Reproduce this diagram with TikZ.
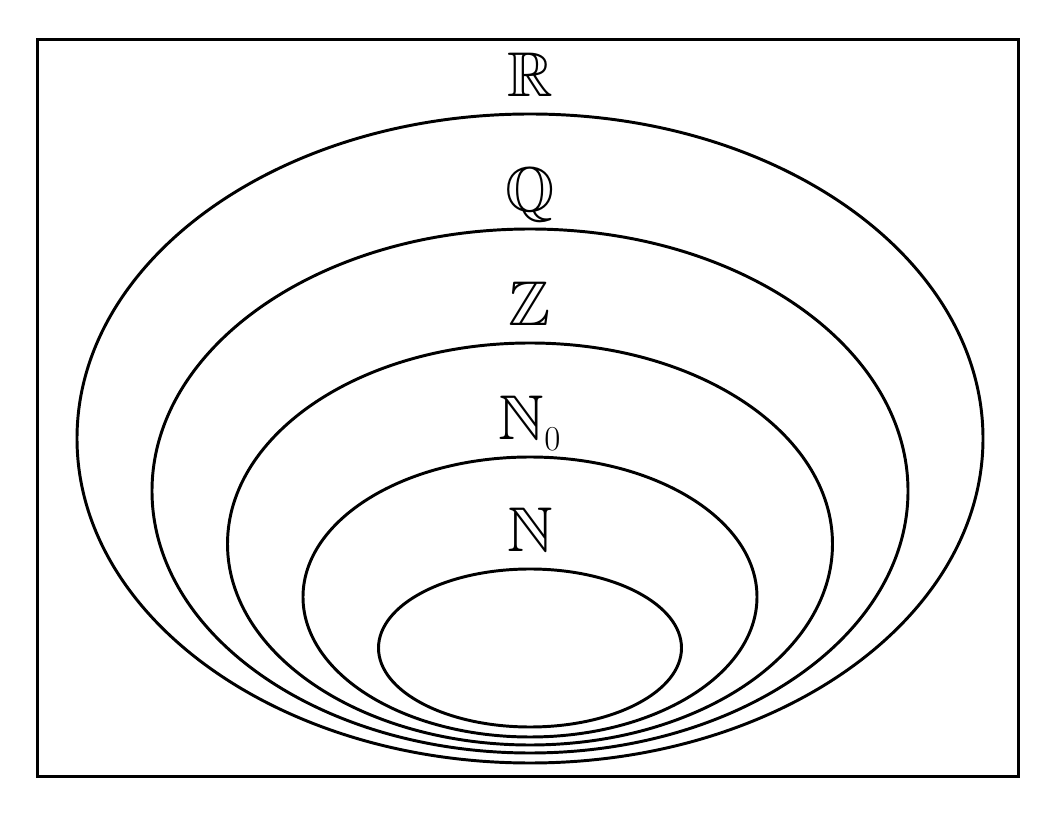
\documentclass[tikz,border=0pt]{standalone}
\usepackage{amssymb}
\usetikzlibrary{shapes.geometric, positioning}

\tikzset{
  numset/.style={draw=black, ellipse, line width=2.1pt, inner sep=0pt},
  setname/.style={anchor=base, inner sep=0pt, font=\fontsize{45}{54}\selectfont}
}

\begin{document}
\begin{tikzpicture}
  \useasboundingbox (0,0) rectangle (26.4,20.4);
  \node[draw=black, line width=1.8pt, minimum width=24.525cm, minimum height=18.425cm, inner sep=0pt] (frame) at (13.2,10.2) {};

  % nested sets, outermost first
  \node[numset, minimum width=22.65cm, minimum height=16.225cm] (R) at (13.25,9.4375) {};
  \node[numset, minimum width=18.9cm,  minimum height=13.1cm]   (Q) at (13.25,8.125) {};
  \node[numset, minimum width=15.125cm, minimum height=10.05cm] (Z) at (13.25,6.8) {};
  \node[numset, minimum width=11.35cm, minimum height=7.0cm]    (N0) at (13.25,5.475) {};
  \node[numset, minimum width=7.575cm, minimum height=3.95cm]   (N) at (13.25,4.2) {};

  % labels above each set
  \node[setname] (labR)  at ([yshift=0.4cm]R.north)  {$\mathbb{R}$};
  \node[setname] (labQ)  at ([yshift=0.4cm]Q.north)  {$\mathbb{Q}$};
  \node[setname] (labZ)  at ([yshift=0.4cm]Z.north)  {$\mathbb{Z}$};
  \node[setname] (labN0) at ([yshift=0.4cm]N0.north) {$\mathbb{N}_0$};
  \node[setname] (labN)  at ([yshift=0.4cm]N.north)  {$\mathbb{N}$};
\end{tikzpicture}
\end{document}
